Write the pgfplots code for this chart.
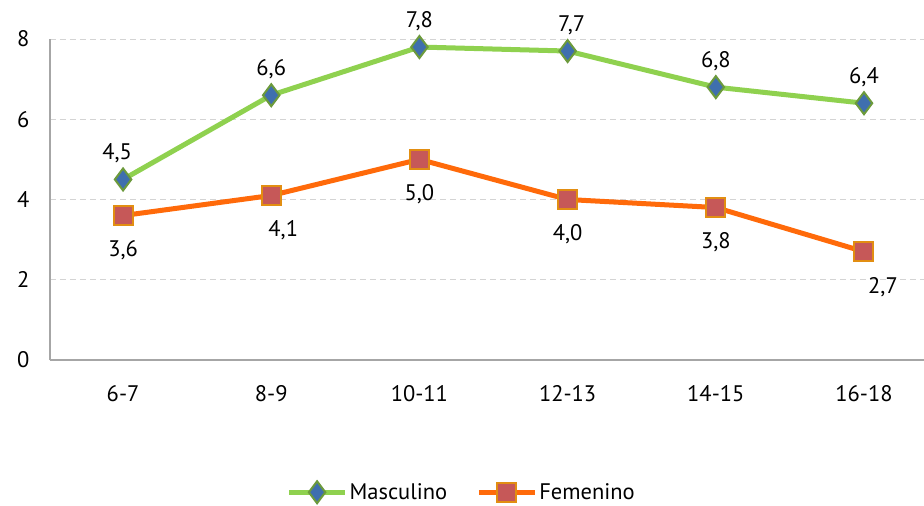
\documentclass[border=0pt]{standalone}
\usepackage{fontspec}
\setmainfont{PT Sans}
\usepackage{pgfplots}
\usepackage{pgfplotstable}
\pgfplotsset{compat=1.18}

\definecolor{mascline}{HTML}{8FD14F}
\definecolor{mascfill}{HTML}{3F6FAE}
\definecolor{mascedge}{HTML}{6C9A3C}
\definecolor{femline}{HTML}{FF6A0A}
\definecolor{femfill}{HTML}{C65858}
\definecolor{femedge}{HTML}{E28E12}
\definecolor{gridgray}{HTML}{D4D4D4}
\definecolor{axisgray}{HTML}{A6A6A6}

\newcommand{\chartfont}{\fontsize{22.5}{26}\selectfont}
\newcommand{\vallabel}{\pgfmathprintnumber[fixed, fixed zerofill, precision=1, use comma, assume math mode=true]{\pgfplotspointmeta}}

% x = age group index, y = value, dx = horizontal nudge of the value label (pt)
\pgfplotstableread{
x y dx
0 4.5 -6
1 6.6 0
2 7.8 0
3 7.7 4
4 6.8 0
5 6.4 0
}\masculino
\pgfplotstableread{
x y dx
0 3.6 0
1 4.1 12
2 5.0 0
3 4.0 0
4 3.8 0
5 2.7 19
}\femenino

\begin{document}
\begin{tikzpicture}
\begin{axis}[
  at={(0pt,0pt)}, anchor=south west,
  scale only axis, width=874pt, height=321pt,
  xmin=-0.493, xmax=5.405, ymin=0, ymax=8,
  xtick={0,...,5},
  xticklabels={6-7,8-9,10-11,12-13,14-15,16-18},
  ytick={0,2,4,6,8},
  yticklabels={0,2,4,6,8},
  axis x line=bottom, axis y line=left,
  axis line style={-, draw=axisgray, line width=1.6pt},
  major tick length=0pt,
  ymajorgrids,
  grid style={draw=gridgray, line width=1pt, dash pattern=on 6pt off 4pt},
  font=\chartfont,
  ticklabel style={font=\chartfont},
  yticklabel style={xshift=-17pt},
  xticklabel style={yshift=-22pt},
  clip=false,
  legend style={draw=none, fill=none, at={(0.471,-0.412)}, anchor=center,
    font=\chartfont, inner sep=0pt,
    /tikz/every even column/.append style={column sep=27pt}},
  legend columns=2,
  legend cell align=left,
  legend image code/.code={%
    \draw[mark repeat=2, mark phase=2] plot coordinates {(0pt,0pt) (28pt,0pt) (56pt,0pt)};},
]
% boys
\addplot[color=mascline, line width=5pt,
  mark=diamond*, mark size=11pt,
  mark options={solid, fill=mascfill, draw=mascedge, line width=2pt},
  visualization depends on={\thisrow{dx} \as \labeldx},
  nodes near coords=\vallabel,
  every node near coord/.append style={anchor=south, yshift=12pt,
    xshift=\labeldx pt, text=black, font=\chartfont}]
  table[x=x, y=y, meta=y] {\masculino};
\addlegendentry{Masculino}
% girls
\addplot[color=femline, line width=5pt,
  mark=square*, mark size=9.5pt,
  mark options={solid, fill=femfill, draw=femedge, line width=2pt},
  visualization depends on={\thisrow{dx} \as \labeldx},
  nodes near coords=\vallabel,
  every node near coord/.append style={anchor=north, yshift=-21pt,
    xshift=\labeldx pt, text=black, font=\chartfont}]
  table[x=x, y=y, meta=y] {\femenino};
\addlegendentry{Femenino}
\end{axis}
\pgfresetboundingbox
\path[use as bounding box] (-50pt,-146pt) rectangle (874pt,360pt);
\end{tikzpicture}
\end{document}
